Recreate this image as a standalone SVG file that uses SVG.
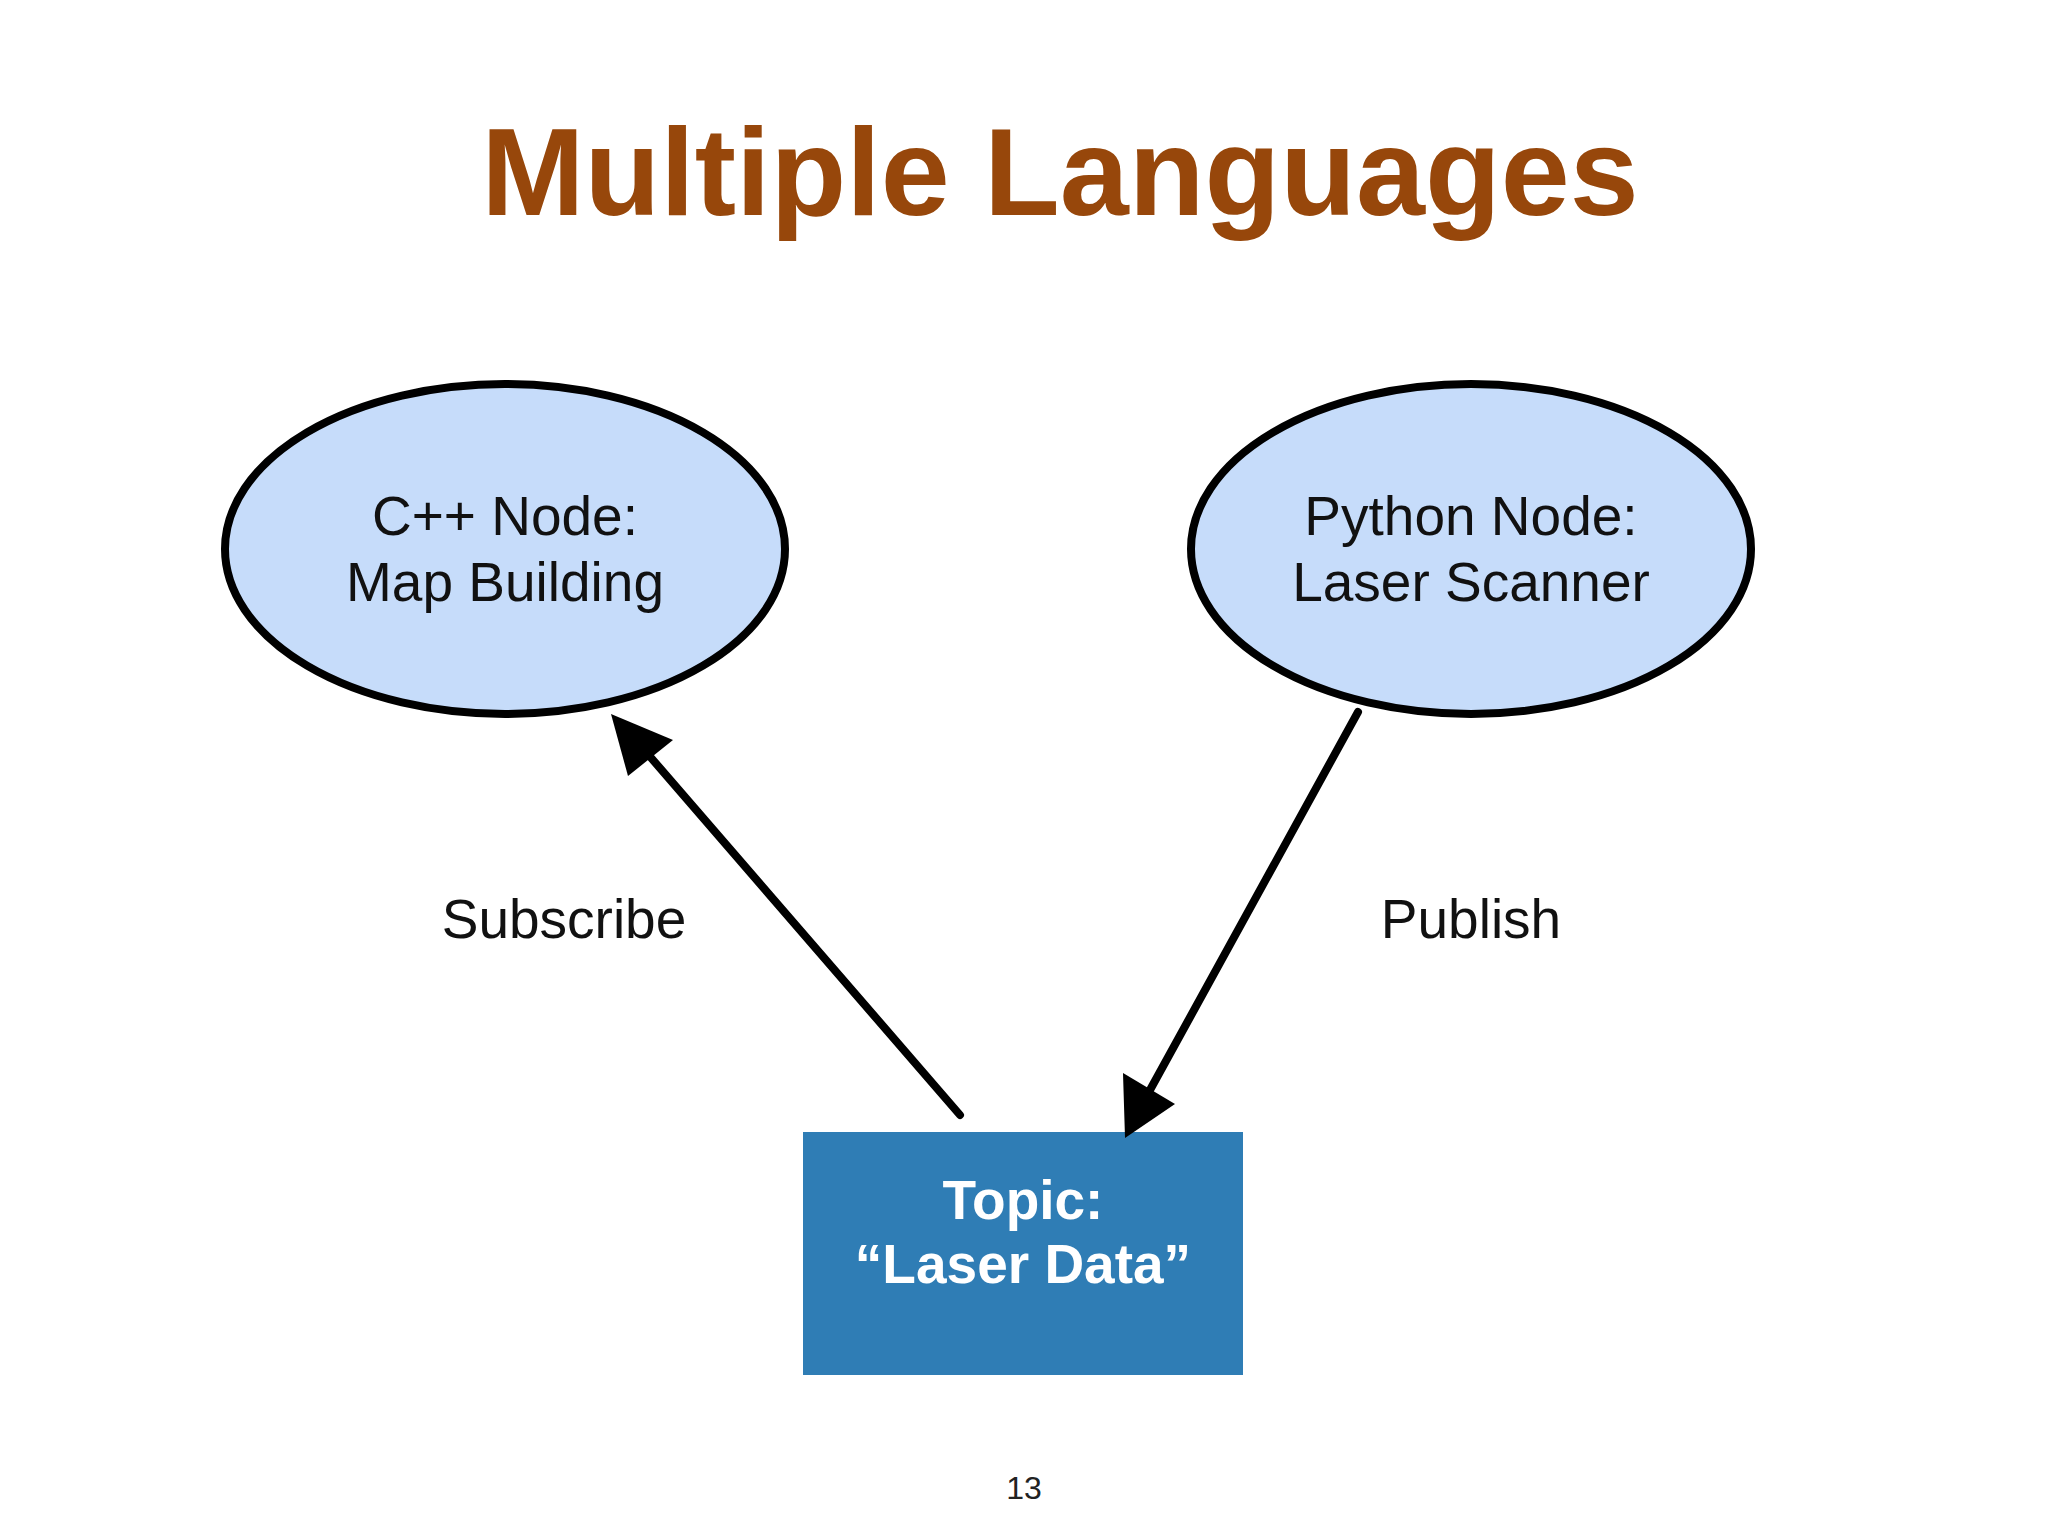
<svg xmlns="http://www.w3.org/2000/svg" width="2048" height="1536" viewBox="0 0 2048 1536">
<style>
.t{font-family:"Liberation Sans",Arial,sans-serif}
.node{fill:#c6dcfa;stroke:#000;stroke-width:8}
.lbl{font-size:55px;fill:#111;text-anchor:middle}
.edge{stroke:#000;stroke-width:8;fill:none;stroke-linecap:round}
</style>
<defs>
<marker id="ah" viewBox="0 0 10 10" refX="9" refY="5" markerWidth="9" markerHeight="9" markerUnits="userSpaceOnUse" orient="auto">
<path d="M0,0 L10,5 L0,10 z" fill="#000"/>
</marker>
</defs>
<rect width="2048" height="1536" fill="#fff"/>
<text class="t" x="1060" y="215" font-size="124" font-weight="bold" fill="#97470b" text-anchor="middle">Multiple Languages</text>
<g id="cpp">
<ellipse class="node" cx="505" cy="549" rx="280" ry="165"/>
<text class="t lbl" x="505" y="535">C++ Node:</text>
<text class="t lbl" x="505" y="601">Map Building</text>
</g>
<g id="python">
<ellipse class="node" cx="1471" cy="549" rx="280" ry="165"/>
<text class="t lbl" x="1471" y="535">Python Node:</text>
<text class="t lbl" x="1471" y="601">Laser Scanner</text>
</g>
<g id="topic">
<rect x="803" y="1132" width="440" height="243" fill="#2f7db5"/>
<text class="t" x="1023" y="1219" font-size="55" font-weight="bold" fill="#fff" text-anchor="middle">Topic:</text>
<text class="t" x="1023" y="1283" font-size="55" font-weight="bold" fill="#fff" text-anchor="middle">“Laser Data”</text>
</g>
<g id="edges">
<line class="edge" x1="960" y1="1115" x2="640" y2="745"/>
<path d="M611,714 L673,740 L628,776 z" fill="#000"/>
<line class="edge" x1="1358" y1="712" x2="1150" y2="1090"/>
<path d="M1125,1138 L1123,1073 L1175,1104 z" fill="#000"/>
<text class="t lbl" x="564" y="938">Subscribe</text>
<text class="t lbl" x="1471" y="938">Publish</text>
</g>
<text class="t" x="1024" y="1499" font-size="32" fill="#222" text-anchor="middle">13</text>
</svg>
